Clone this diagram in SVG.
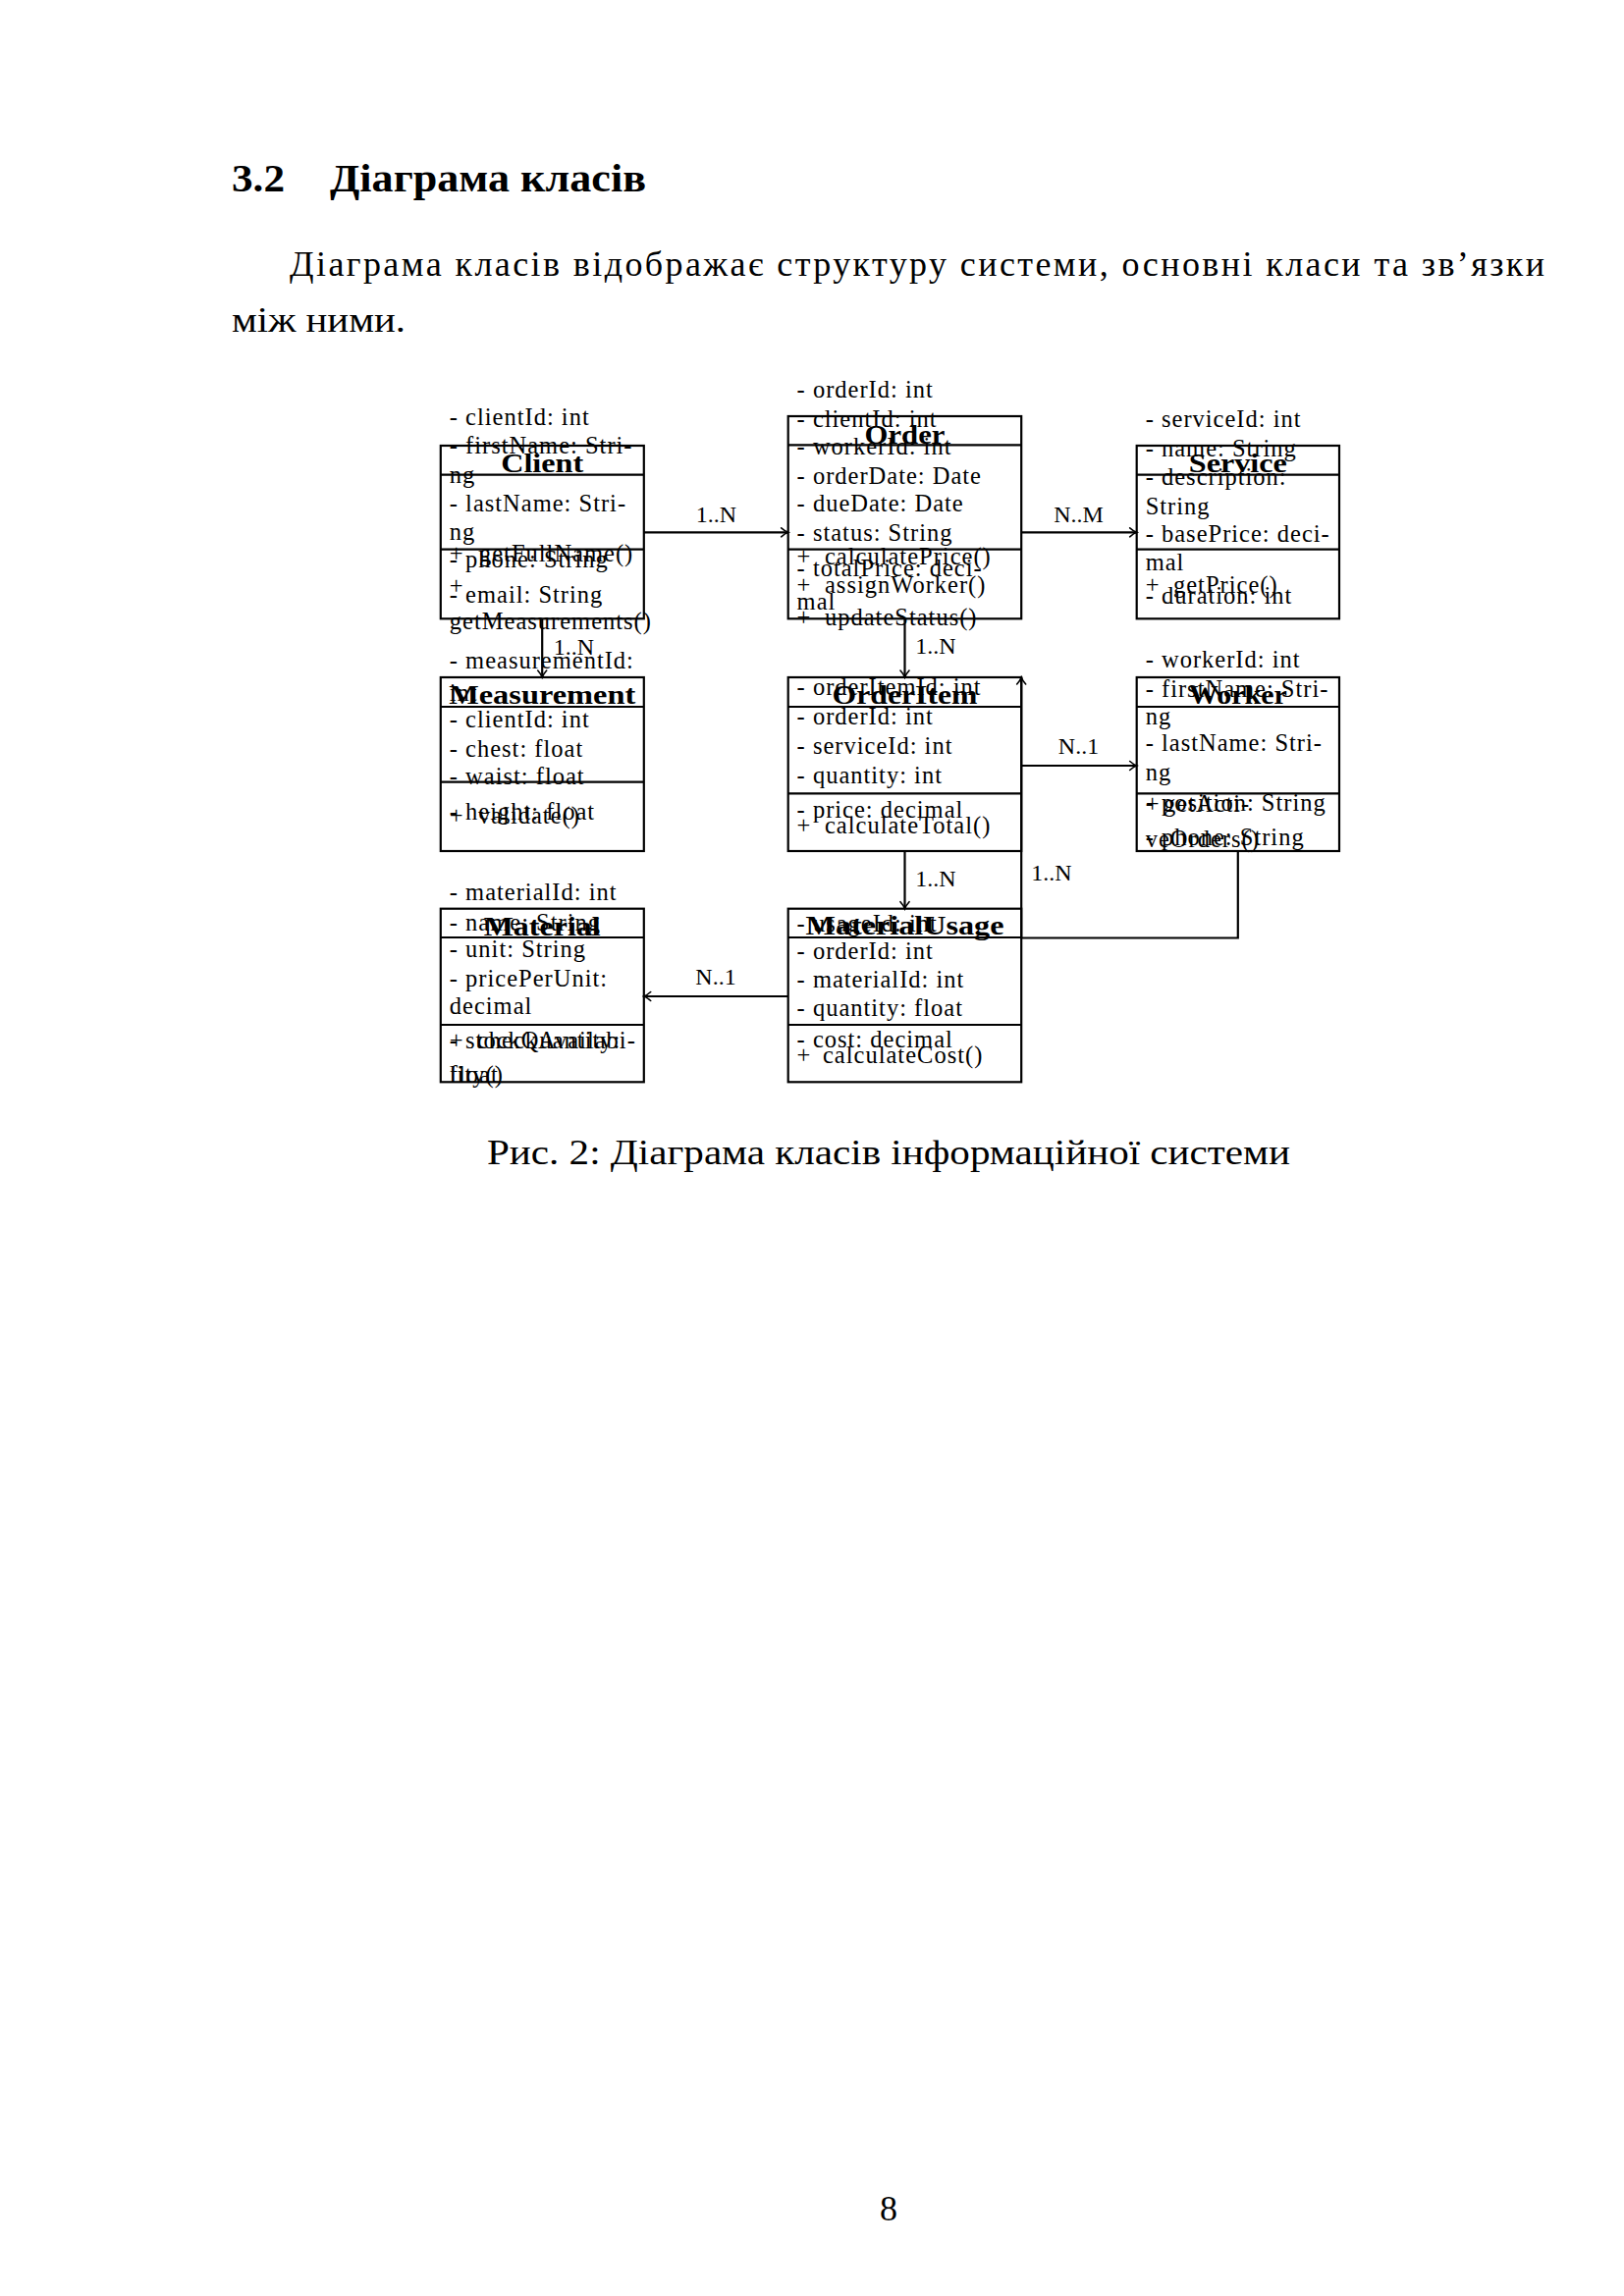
<svg xmlns="http://www.w3.org/2000/svg" width="1654" height="2339" viewBox="0 0 1654 2339">
<style>
  .bg { fill: #ffffff; }
  .box { fill: none; stroke: #000; stroke-width: 2.2; }
  .div { stroke: #000; stroke-width: 2.2; }
  .t { font-family: "Liberation Serif", serif; font-size: 24.5px; letter-spacing: 1px; fill: #000; }
  .h { font-family: "Liberation Serif", serif; font-size: 27.5px; font-weight: bold; text-anchor: middle; fill: #000; }
  .lbl { font-family: "Liberation Serif", serif; font-size: 24px; text-anchor: middle; fill: #000; }
  .conn { fill: none; stroke: #000; stroke-width: 2.2; marker-end: url(#arr); }
  .body { font-family: "Liberation Serif", serif; font-size: 36px; fill: #000; }
  .title { font-family: "Liberation Serif", serif; font-size: 39px; font-weight: bold; fill: #000; }
</style>
<defs>
  <marker id="arr" markerUnits="userSpaceOnUse" viewBox="-10 -6 12 12" refX="0" refY="0" markerWidth="12" markerHeight="12" orient="auto">
    <path d="M -7 -4.5 Q -3 -1 0 0 Q -3 1 -7 4.5" fill="none" stroke="#000" stroke-width="1.6" stroke-linecap="round"/>
  </marker>
</defs>
<rect class="bg" x="0" y="0" width="1654" height="2339"/>

<g id="page-text">
  <text class="title" x="236" y="195" textLength="54" lengthAdjust="spacingAndGlyphs">3.2</text>
  <text class="title" x="336" y="195" textLength="322" lengthAdjust="spacingAndGlyphs">Діаграма класів</text>
  <text class="body" x="295" y="281" textLength="1278" lengthAdjust="spacing">Діаграма класів відображає структуру системи, основні класи та зв’язки</text>
  <text class="body" x="236" y="338" textLength="177" lengthAdjust="spacingAndGlyphs">між ними.</text>
  <text class="body" x="496" y="1186" textLength="818" lengthAdjust="spacingAndGlyphs">Рис. 2: Діаграма класів інформаційної системи</text>
  <text class="body" x="905" y="2262" text-anchor="middle">8</text>
</g>

<g id="connectors">
  <path class="conn" d="M 655.7 542.3 H 802.7"/>
  <path class="conn" d="M 1040.2 542.3 H 1157.7"/>
  <path class="conn" d="M 552.2 630.3 V 690"/>
  <path class="conn" d="M 921.5 630.3 V 690"/>
  <path class="conn" d="M 1040.2 780 H 1157.7"/>
  <path class="conn" d="M 921.5 867 V 925.7"/>
  <path class="conn" d="M 802.7 1015 H 655.7"/>
  <path class="conn" d="M 1260.8 867 V 955.5 H 1040.2 V 690"/>
  <text class="lbl" x="729.5" y="531.5">1..N</text>
  <text class="lbl" x="1098.5" y="532">N..M</text>
  <text class="lbl" x="584.5" y="666.5">1..N</text>
  <text class="lbl" x="953" y="666">1..N</text>
  <text class="lbl" x="1098.5" y="768.3">N..1</text>
  <text class="lbl" x="953" y="903.3">1..N</text>
  <text class="lbl" x="729" y="1003.3">N..1</text>
  <text class="lbl" x="1071" y="896.7">1..N</text>
</g>

<g id="Client">
  <rect class="box" x="448.8" y="454" width="207" height="176.3"/>
  <line class="div" x1="448.8" y1="483.7" x2="655.8" y2="483.7"/>
  <line class="div" x1="448.8" y1="559.7" x2="655.8" y2="559.7"/>
  <text class="h" x="552.2" y="481" textLength="84" lengthAdjust="spacingAndGlyphs">Client</text>
  <text class="t" x="457.8" y="433">- clientId: int</text>
  <text class="t" x="457.8" y="462">- firstName: Stri-</text>
  <text class="t" x="457.8" y="491.5">ng</text>
  <text class="t" x="457.8" y="520.5">- lastName: Stri-</text>
  <text class="t" x="457.8" y="549.5">ng</text>
  <text class="t" x="457.8" y="578">- phone: String</text>
  <text class="t" x="457.8" y="614">- email: String</text>
  <text class="t" x="457.8" y="572">+<tspan x="488">getFullName()</tspan></text>
  <text class="t" x="457.8" y="605">+</text>
  <text class="t" x="457.8" y="641">getMeasurements()</text>
</g>

<g id="Order">
  <rect class="box" x="802.7" y="424" width="237.5" height="206.3"/>
  <line class="div" x1="802.7" y1="453.3" x2="1040.2" y2="453.3"/>
  <line class="div" x1="802.7" y1="559.7" x2="1040.2" y2="559.7"/>
  <text class="h" x="921.5" y="451.7" textLength="82" lengthAdjust="spacingAndGlyphs">Order</text>
  <text class="t" x="811.6" y="405">- orderId: int</text>
  <text class="t" x="811.6" y="434.5">- clientId: int</text>
  <text class="t" x="811.6" y="463">- workerId: int</text>
  <text class="t" x="811.6" y="492.5">- orderDate: Date</text>
  <text class="t" x="811.6" y="521">- dueDate: Date</text>
  <text class="t" x="811.6" y="551">- status: String</text>
  <text class="t" x="811.6" y="586.5">- totalPrice: deci-</text>
  <text class="t" x="811.6" y="621">mal</text>
  <text class="t" x="811.6" y="574.5">+<tspan x="840">calculatePrice()</tspan></text>
  <text class="t" x="811.6" y="604">+<tspan x="840">assignWorker()</tspan></text>
  <text class="t" x="811.6" y="637">+<tspan x="840">updateStatus()</tspan></text>
</g>

<g id="Service">
  <rect class="box" x="1157.7" y="454" width="206.3" height="176.3"/>
  <line class="div" x1="1157.7" y1="483.7" x2="1364" y2="483.7"/>
  <line class="div" x1="1157.7" y1="559.7" x2="1364" y2="559.7"/>
  <text class="h" x="1260.8" y="481" textLength="100" lengthAdjust="spacingAndGlyphs">Service</text>
  <text class="t" x="1166.7" y="435">- serviceId: int</text>
  <text class="t" x="1166.7" y="465">- name: String</text>
  <text class="t" x="1166.7" y="493.5">- description:</text>
  <text class="t" x="1166.7" y="523.5">String</text>
  <text class="t" x="1166.7" y="551.5">- basePrice: deci-</text>
  <text class="t" x="1166.7" y="581">mal</text>
  <text class="t" x="1166.7" y="615">- duration: int</text>
  <text class="t" x="1166.7" y="603.5">+<tspan x="1195">getPrice()</tspan></text>
</g>

<g id="Measurement">
  <rect class="box" x="448.8" y="690" width="207" height="177"/>
  <line class="div" x1="448.8" y1="720" x2="655.8" y2="720"/>
  <line class="div" x1="448.8" y1="796.7" x2="655.8" y2="796.7"/>
  <text class="h" x="552.2" y="716.7" textLength="190" lengthAdjust="spacingAndGlyphs">Measurement</text>
  <text class="t" x="457.8" y="681">- measurementId:</text>
  <text class="t" x="457.8" y="714">int</text>
  <text class="t" x="457.8" y="741">- clientId: int</text>
  <text class="t" x="457.8" y="770.5">- chest: float</text>
  <text class="t" x="457.8" y="799">- waist: float</text>
  <text class="t" x="457.8" y="835">- height: float</text>
  <text class="t" x="457.8" y="839">+<tspan x="487">validate()</tspan></text>
</g>

<g id="OrderItem">
  <rect class="box" x="802.7" y="690" width="237.5" height="177"/>
  <line class="div" x1="802.7" y1="720" x2="1040.2" y2="720"/>
  <line class="div" x1="802.7" y1="808.3" x2="1040.2" y2="808.3"/>
  <text class="h" x="921.5" y="716.7" textLength="148" lengthAdjust="spacingAndGlyphs">OrderItem</text>
  <text class="t" x="811.6" y="708">- orderItemId: int</text>
  <text class="t" x="811.6" y="738">- orderId: int</text>
  <text class="t" x="811.6" y="768">- serviceId: int</text>
  <text class="t" x="811.6" y="797.5">- quantity: int</text>
  <text class="t" x="811.6" y="833">- price: decimal</text>
  <text class="t" x="811.6" y="849">+<tspan x="840">calculateTotal()</tspan></text>
</g>

<g id="Worker">
  <rect class="box" x="1157.7" y="690" width="206.3" height="177"/>
  <line class="div" x1="1157.7" y1="720" x2="1364" y2="720"/>
  <line class="div" x1="1157.7" y1="808.3" x2="1364" y2="808.3"/>
  <text class="h" x="1260.8" y="716.7" textLength="100" lengthAdjust="spacingAndGlyphs">Worker</text>
  <text class="t" x="1166.7" y="680">- workerId: int</text>
  <text class="t" x="1166.7" y="710">- firstName: Stri-</text>
  <text class="t" x="1166.7" y="738">ng</text>
  <text class="t" x="1166.7" y="765">- lastName: Stri-</text>
  <text class="t" x="1166.7" y="795">ng</text>
  <text class="t" x="1166.7" y="826">- position: String</text>
  <text class="t" x="1166.7" y="861">- phone: String</text>
  <text class="t" x="1166.7" y="827">+<tspan x="1185">getActi-</tspan></text>
  <text class="t" x="1166.7" y="863">veOrders()</text>
</g>

<g id="Material">
  <rect class="box" x="448.8" y="925.7" width="207" height="176.6"/>
  <line class="div" x1="448.8" y1="955" x2="655.8" y2="955"/>
  <line class="div" x1="448.8" y1="1044" x2="655.8" y2="1044"/>
  <text class="h" x="552.2" y="953.3" textLength="119" lengthAdjust="spacingAndGlyphs">Material</text>
  <text class="t" x="457.8" y="916.5">- materialId: int</text>
  <text class="t" x="457.8" y="948">- name: String</text>
  <text class="t" x="457.8" y="974.5">- unit: String</text>
  <text class="t" x="457.8" y="1004.5">- pricePerUnit:</text>
  <text class="t" x="457.8" y="1032.5">decimal</text>
  <text class="t" x="457.8" y="1068">- stockQuantity:</text>
  <text class="t" x="457.8" y="1102.5">float</text>
  <text class="t" x="457.8" y="1068">+<tspan x="486">checkAvailabi-</tspan></text>
  <text class="t" x="457.8" y="1102.5">lity()</text>
</g>

<g id="MaterialUsage">
  <rect class="box" x="802.7" y="925.7" width="237.5" height="176.6"/>
  <line class="div" x1="802.7" y1="955" x2="1040.2" y2="955"/>
  <line class="div" x1="802.7" y1="1044" x2="1040.2" y2="1044"/>
  <text class="h" x="921.5" y="951.7" textLength="202" lengthAdjust="spacingAndGlyphs">MaterialUsage</text>
  <text class="t" x="811.6" y="949">- usageId: int</text>
  <text class="t" x="811.6" y="977">- orderId: int</text>
  <text class="t" x="811.6" y="1006">- materialId: int</text>
  <text class="t" x="811.6" y="1035">- quantity: float</text>
  <text class="t" x="811.6" y="1067">- cost: decimal</text>
  <text class="t" x="811.6" y="1083">+<tspan x="838">calculateCost()</tspan></text>
</g>
</svg>
